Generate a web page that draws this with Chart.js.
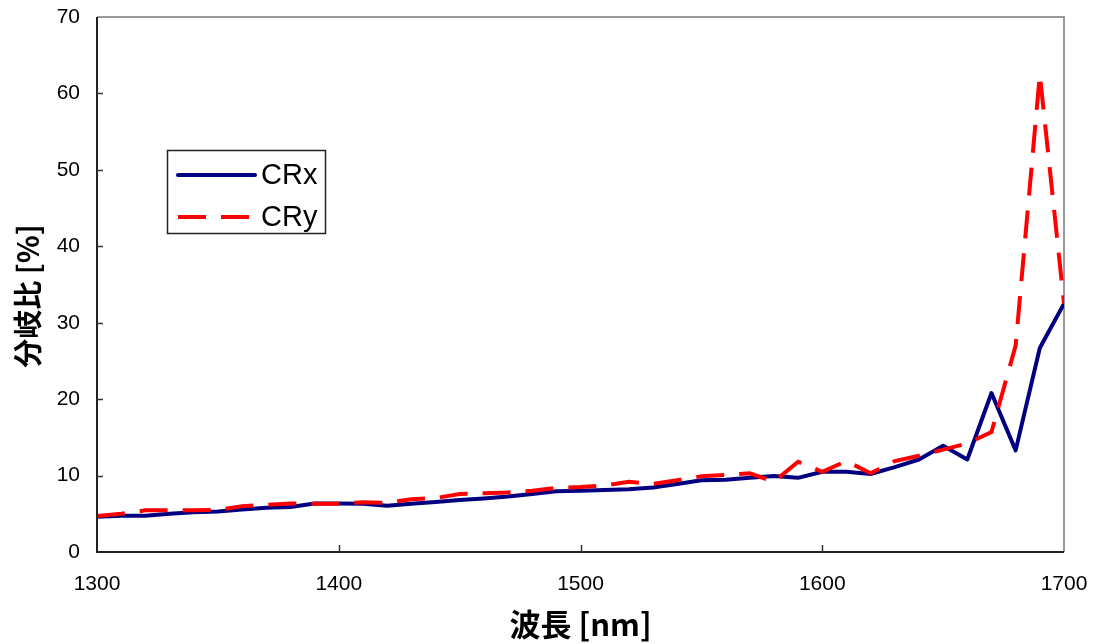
<!DOCTYPE html>
<html>
<head>
<meta charset="utf-8">
<script src="https://cdn.jsdelivr.net/npm/chart.js@4/dist/chart.umd.min.js"></script>
<style>
html,body{margin:0;padding:0;background:#fff;}
#wrap{width:1093px;height:644px;position:relative;}
</style>
</head>
<body>
<div id="wrap"><canvas id="c" width="1093" height="644"></canvas></div>
<script>
// ---- data ----
const wavelengths = [1300,1310,1320,1330,1340,1350,1360,1370,1380,1390,1400,1410,1420,1430,1440,1450,1460,1470,1480,1490,1500,1510,1520,1530,1540,1550,1560,1570,1580,1590,1600,1610,1620,1630,1640,1650,1660,1670,1680,1690,1700];
const crx = [4.6,4.75,4.75,5.0,5.2,5.3,5.55,5.8,5.9,6.35,6.35,6.3,6.05,6.3,6.55,6.8,7.0,7.25,7.6,7.95,8.0,8.1,8.2,8.45,8.9,9.4,9.45,9.7,9.95,9.7,10.5,10.5,10.2,11.1,12.1,13.9,12.1,20.8,13.3,26.7,32.5];
const cry = [4.7,5.0,5.45,5.45,5.45,5.5,6.0,6.15,6.35,6.3,6.3,6.5,6.45,6.9,7.05,7.6,7.7,7.8,8.0,8.4,8.5,8.7,9.2,8.9,9.4,9.9,10.1,10.3,9.2,11.8,10.5,11.9,10.3,11.9,12.6,13.4,14.2,15.7,27.0,62.5,32.5];
const seriesNames = ['CRx','CRy'];
const xTicks = [1300,1400,1500,1600,1700];
const yTicks = [0,10,20,30,40,50,60,70];
const xTitle = '波長 [nm]';
const yTitle = '分岐比 [%]';

const toXY = (ys) => wavelengths.map((w,i)=>({x:w,y:ys[i]}));

const LAT = '"Liberation Sans", Arial, sans-serif';
const CJK = '"Noto Sans CJK JP", "Liberation Sans", sans-serif';

const decor = {
  id:'decor',
  beforeDatasetsDraw(chart){
    const {ctx, chartArea:a} = chart;
    ctx.save();
    ctx.strokeStyle = '#9a9a9a';
    ctx.lineWidth = 2;
    ctx.beginPath();
    ctx.moveTo(a.left, a.top); ctx.lineTo(a.right, a.top); ctx.lineTo(a.right, a.bottom);
    ctx.stroke();
    ctx.restore();
  },
  afterDatasetsDraw(chart){
    const {ctx, chartArea:a, scales:{x,y}} = chart;
    ctx.save();
    ctx.strokeStyle = '#222';
    ctx.lineWidth = 2;
    ctx.beginPath();
    ctx.moveTo(a.left, a.top); ctx.lineTo(a.left, a.bottom); ctx.lineTo(a.right, a.bottom);
    ctx.stroke();
    ctx.lineWidth = 1.5;
    ctx.strokeStyle = '#333';
    ctx.beginPath();
    yTicks.forEach(v=>{ if(v===0||v===70) return; const py=Math.round(y.getPixelForValue(v))+0.5; ctx.moveTo(a.left, py); ctx.lineTo(a.left+6, py); });
    xTicks.forEach(v=>{ if(v===1300||v===1700) return; const px=Math.round(x.getPixelForValue(v))+0.5; ctx.moveTo(px, a.bottom); ctx.lineTo(px, a.bottom-7); });
    ctx.stroke();

    // legend
    const lx = a.left + 70, ly = a.top + 133, lw = 158, lh = 83;
    ctx.fillStyle = '#fff';
    ctx.fillRect(lx, ly, lw, lh);
    ctx.strokeStyle = '#222';
    ctx.lineWidth = 1.5;
    ctx.strokeRect(lx+0.5, ly+0.5, lw, lh);
    chart.data.datasets.forEach((ds,i)=>{
      const yy = ly + 25 + i*42;
      ctx.beginPath();
      ctx.strokeStyle = ds.borderColor;
      ctx.lineWidth = 4;
      ctx.lineCap = i===0 ? 'round':'butt';
      ctx.setLineDash(ds.borderDash || []);
      ctx.moveTo(lx+11, yy); ctx.lineTo(lx+88, yy);
      ctx.stroke();
      ctx.setLineDash([]);
      ctx.fillStyle = '#000';
      ctx.font = '29px ' + LAT;
      ctx.textBaseline = 'middle';
      ctx.textAlign = 'left';
      ctx.fillText(ds.label, lx+94, yy+1);
    });

    // axis titles
    ctx.fillStyle = '#000';
    ctx.font = 'bold 31px ' + CJK;
    ctx.textAlign = 'center';
    ctx.textBaseline = 'middle';
    ctx.fillText(xTitle, (a.left+a.right)/2, 624);
    ctx.save();
    ctx.translate(28, 296);
    ctx.rotate(-Math.PI/2);
    ctx.font = 'bold 29px ' + CJK;
    ctx.fillText(yTitle, 0, 0);
    ctx.restore();
    ctx.restore();
  }
};

new Chart(document.getElementById('c'), {
  type:'line',
  data:{
    datasets:[
      {label:seriesNames[0], data:toXY(crx), borderColor:'#000080', borderWidth:4, pointRadius:0, tension:0, order:1, borderJoinStyle:'round'},
      {label:seriesNames[1], data:toXY(cry), borderColor:'#ff0000', borderWidth:4, borderDash:[28,15], pointRadius:0, tension:0, order:0}
    ]
  },
  options:{
    responsive:false,
    animation:false,
    events:[],
    layout:{padding:{top:17, right:29, left:0, bottom:0}},
    plugins:{legend:{display:false}, tooltip:{enabled:false}},
    scales:{
      x:{
        type:'linear', min:1300, max:1700,
        afterBuildTicks(s){ s.ticks = xTicks.map(v=>({value:v})); },
        afterFit(s){ s.height = 92; s.paddingLeft = 0; s.paddingRight = 0; },
        grid:{display:false, drawTicks:false},
        border:{display:false},
        ticks:{color:'#000', font:{family:LAT, size:21}, padding:20, maxRotation:0, callback:(v)=>String(v)}
      },
      y:{
        type:'linear', min:0, max:70,
        afterBuildTicks(s){ s.ticks = yTicks.map(v=>({value:v})); },
        afterFit(s){ s.width = 97; s.paddingTop = 0; s.paddingBottom = 0; },
        grid:{display:false, drawTicks:false},
        border:{display:false},
        ticks:{color:'#000', font:{family:LAT, size:21}, padding:17, callback:(v)=>String(v)}
      }
    }
  },
  plugins:[decor]
});
</script>
</body>
</html>
